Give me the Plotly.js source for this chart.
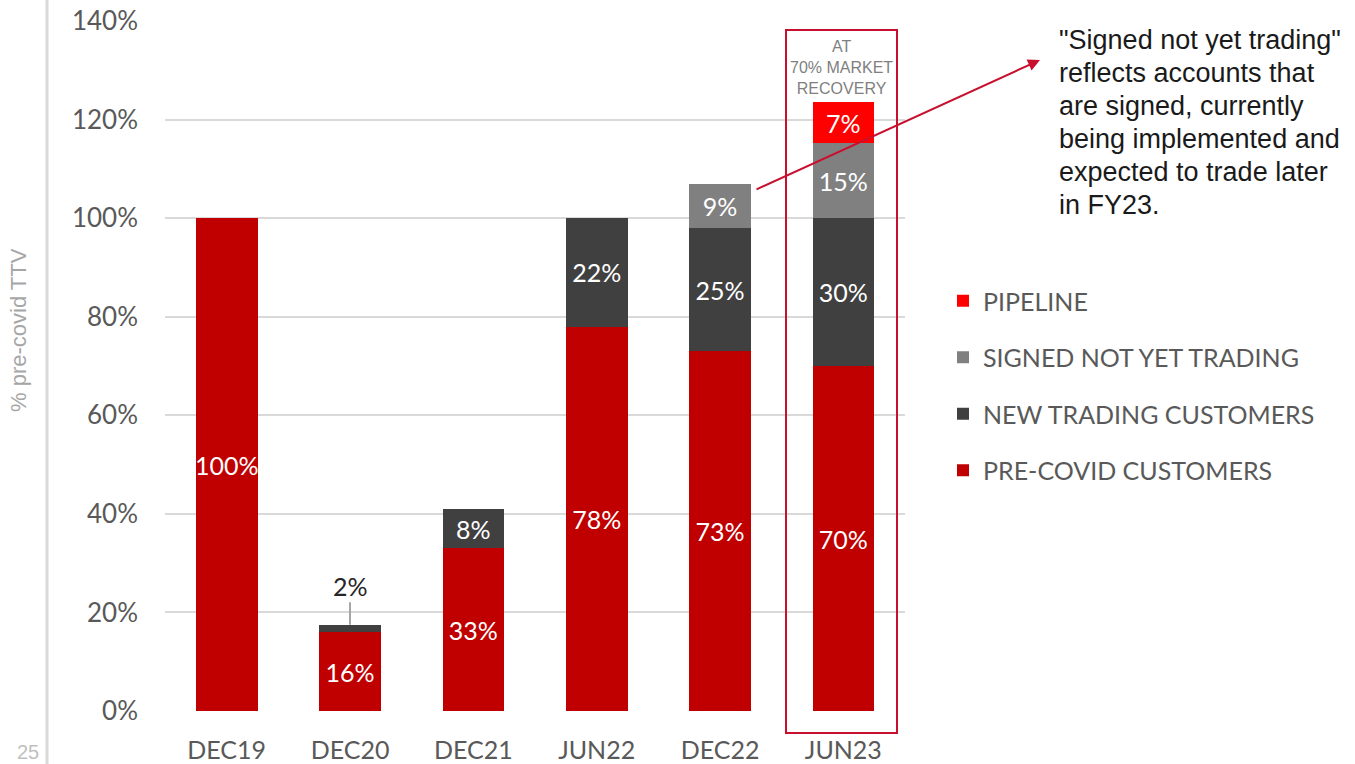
<!DOCTYPE html>
<html><head><meta charset="utf-8">
<script src="https://cdn.plot.ly/plotly-3.0.1.min.js"></script>
<style>html,body{margin:0;padding:0;background:#fff}#chart{width:1355px;height:764px}</style>
</head><body><div id="chart"></div>
<script>
const categories = ['DEC19','DEC20','DEC21','JUN22','DEC22','JUN23'];
const preCovid = [100, 16, 33, 78, 73, 70];
const newTrading = [0, 1.5, 8, 22, 25, 30];
const signedNotTrading = [0, 0, 0, 0, 9, 15.2];
const pipeline = [0, 0, 0, 0, 0, 8.3];
const preCovidLabels = ['100%','16%','33%','78%','73%','70%'];
const newTradingLabels = ['','','8%','22%','25%','30%'];
const signedLabels = ['','','','','9%','15%'];
const pipelineLabels = ['','','','','','7%'];
const yTicks = [0,20,40,60,80,100,120,140];
const yTickText = ['0%','20%','40%','60%','80%','100%','120%','140%'];
const noteLines = ['"Signed not yet trading"','reflects accounts that','are signed, currently','being implemented and','expected to trade later','in FY23.'];

const W = 1355, H = 764, L = 165, R = 905, T = 21, B = 711;
const px = v => (v - L) / (R - L);
const py = v => (B - v) / (B - T);

const labelFont = {family: 'Lato, Calibri, sans-serif', size: 25, color: '#ffffff'};
function barTrace(name, y, text, color, rank) {
  return {type: 'bar', name: name, x: categories, y: y, text: text,
    marker: {color: color, line: {width: 0}},
    textposition: 'inside', insidetextanchor: 'middle', textangle: 0,
    constraintext: 'none', textfont: labelFont, hoverinfo: 'skip',
    legendgroup: name, legendrank: rank, cliponaxis: false};
}
const data = [
  barTrace('PRE-COVID CUSTOMERS', preCovid, preCovidLabels, '#C00000', 4),
  barTrace('NEW TRADING CUSTOMERS', newTrading, newTradingLabels, '#404040', 3),
  barTrace('SIGNED NOT YET TRADING', signedNotTrading, signedLabels, '#808080', 2),
  barTrace('PIPELINE', pipeline, pipelineLabels, '#FF0000', 1)
];

const annotations = [
  {x: 'DEC20', y: 17.5, xref: 'x', yref: 'y', text: '2%', showarrow: true,
    ax: 0, ay: -39, arrowhead: 0, arrowwidth: 2, arrowcolor: '#a6a6a6', standoff: 0,
    font: {size: 25, color: '#262626', family: 'Lato, Calibri, sans-serif'}},
  {xref: 'paper', yref: 'paper', x: px(841), y: py(67), text: 'AT<br>70% MARKET<br>RECOVERY',
    showarrow: false, align: 'center', xanchor: 'center', yanchor: 'middle',
    font: {size: 16, color: '#7f7f7f', family: 'Liberation Sans, Arial, sans-serif'}},
  {xref: 'paper', yref: 'paper', x: px(1040), y: py(60), text: '', showarrow: true,
    axref: 'pixel', ayref: 'pixel', ax: -285, ay: 130, arrowhead: 2, arrowsize: 1.2,
    arrowwidth: 2, arrowcolor: '#C8102E', standoff: 0},
  {xref: 'paper', yref: 'paper', x: px(18), y: py(330), text: '% pre-covid TTV', textangle: -90,
    showarrow: false, xanchor: 'center', yanchor: 'middle',
    font: {size: 22, color: '#a6a6a6', family: 'Liberation Sans, Arial, sans-serif'}},
  {xref: 'paper', yref: 'paper', x: px(28), y: py(752), text: '25', showarrow: false,
    xanchor: 'center', yanchor: 'middle',
    font: {size: 20, color: '#bfbfbf', family: 'Liberation Sans, Arial, sans-serif'}}
];
noteLines.forEach((t, i) => annotations.push({
  xref: 'paper', yref: 'paper', x: px(1057), y: py(40 + i * 33), xanchor: 'left', yanchor: 'middle',
  align: 'left', showarrow: false, text: t,
  font: {size: 27, color: '#1a1a1a', family: 'Liberation Sans, Arial, sans-serif'}}));

const layout = {
  width: W, height: H,
  margin: {l: L, r: W - R, t: T, b: H - B},
  paper_bgcolor: '#ffffff', plot_bgcolor: '#ffffff',
  barmode: 'stack', bargap: 0.5,
  font: {family: 'Lato, Calibri, sans-serif', color: '#595959'},
  xaxis: {type: 'category', showgrid: false, zeroline: false, showline: false, ticks: '',
    tickfont: {size: 25, color: '#595959'}, ticklabelstandoff: 22},
  yaxis: {range: [0, 140], tickmode: 'array', tickvals: yTicks, ticktext: yTickText, showgrid: true,
    gridcolor: '#d9d9d9', gridwidth: 2, zeroline: false, showline: false, ticks: '',
    tickfont: {size: 26, color: '#595959'}, ticklabelstandoff: 26},
  showlegend: true,
  legend: {x: px(943), y: py(278), xanchor: 'left', yanchor: 'top',
    traceorder: 'grouped', tracegroupgap: 21,
    font: {size: 25, color: '#595959', family: 'Lato, Calibri, sans-serif'},
    bgcolor: 'rgba(0,0,0,0)'},
  shapes: [
    {type: 'rect', xref: 'paper', yref: 'paper', x0: px(786), x1: px(897), y0: py(733), y1: py(30),
      line: {color: '#C8102E', width: 2}},
    {type: 'line', xref: 'paper', yref: 'paper', x0: px(47), x1: px(47), y0: py(764), y1: py(0),
      line: {color: '#d9d9d9', width: 3}}
  ],
  annotations: annotations
};
Plotly.newPlot('chart', data, layout, {displayModeBar: false, staticPlot: true});
</script></body></html>
